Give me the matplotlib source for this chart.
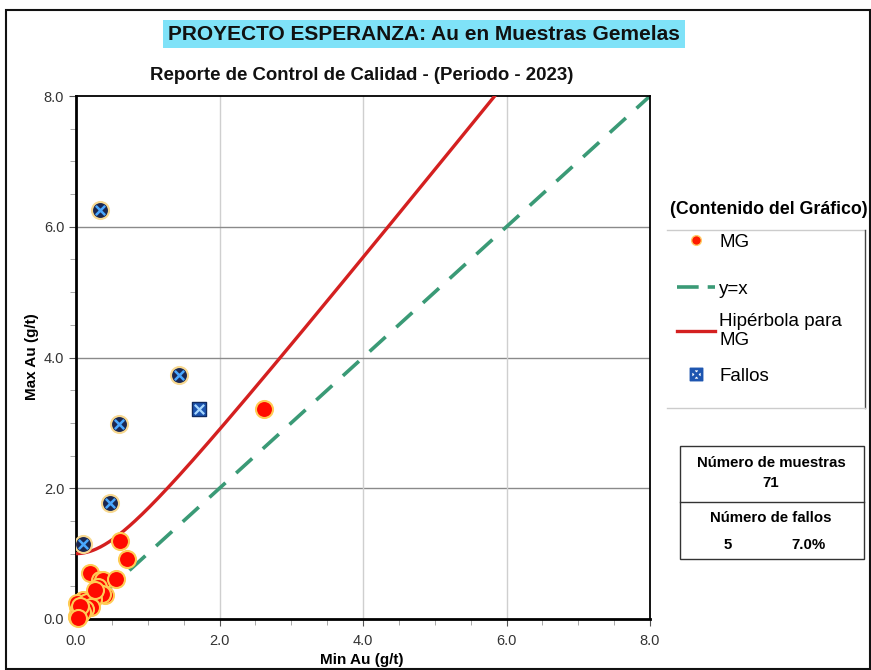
import numpy as np
import matplotlib
matplotlib.use("Agg")
import matplotlib.pyplot as plt
from matplotlib.lines import Line2D
from matplotlib.patches import Rectangle

plt.rcParams['font.family'] = ['Liberation Sans', 'DejaVu Sans']

# ---- data ----
mg_x = [0.62, 0.71, 0.19, 0.33, 0.38, 0.56, 0.30, 0.41, 0.36, 0.23, 0.08, 0.10, 0.03, 0.05,
        0.04, 0.02, 0.13, 0.16, 0.06, 0.01, 0.27, 0.21, 0.12, 0.09, 0.02, 0.05, 0.03, 2.62]
mg_y = [1.20, 0.92, 0.71, 0.60, 0.60, 0.61, 0.49, 0.37, 0.39, 0.30, 0.27, 0.29, 0.19, 0.06,
        0.12, 0.24, 0.22, 0.26, 0.09, 0.03, 0.45, 0.18, 0.15, 0.11, 0.05, 0.20, 0.02, 3.21]
fallos_circ_x = [0.10, 0.47, 0.60, 0.33, 1.43]
fallos_circ_y = [1.14, 1.77, 2.98, 6.26, 3.73]
fallos_sq_x = [1.72]
fallos_sq_y = [3.21]
hyp_b = 1.0
hyp_m = 1.36
diag_pts = [0.0, 8.0]
x_ticks = [0.0, 2.0, 4.0, 6.0, 8.0]
y_ticks = [0.0, 2.0, 4.0, 6.0, 8.0]
legend_labels = ["MG", "y=x", "Hipérbola para\nMG", "Fallos"]
n_muestras = 71
n_fallos = 5
pct_fallos = "7.0%"

W, H = 871, 670
fig = plt.figure(figsize=(W/100, H/100), dpi=100)

def fx(px): return px / W
def fy(py): return 1 - py / H

ax = fig.add_axes([fx(76), fy(619), fx(650) - fx(76), fy(96) - fy(619)])
ax.set_xlim(0, 8)
ax.set_ylim(0, 8)

# grid
for v in [2, 4, 6]:
    ax.axvline(v, color='#cfcfcf', lw=1.0, zorder=0)
    ax.axhline(v, color='#8a8a8a', lw=1.0, zorder=0)

# y=x
ax.plot(diag_pts, diag_pts, color='#3a9a76', lw=2.6, dashes=(6, 4), zorder=2)
# hyperbola
hx = np.linspace(0, 8, 400)
hy = np.sqrt(hyp_b**2 + (hyp_m * hx)**2)
ax.plot(hx, hy, color='#d42020', lw=2.4, zorder=3)

# MG points
ax.scatter(mg_x, mg_y, s=150, c='#ff0a00', edgecolors='#ffcc55', linewidths=1.5, zorder=4, clip_on=False)
# fallos
ax.scatter(fallos_circ_x, fallos_circ_y, s=150, c='#1b2750', edgecolors='#f7d890', linewidths=1.5, zorder=5)
ax.scatter(fallos_circ_x, fallos_circ_y, s=45, marker='x', c='#4aa8ff', linewidths=1.8, zorder=6)
ax.scatter(fallos_sq_x, fallos_sq_y, s=110, marker='s', c='#1d55b0', edgecolors='#102a60', linewidths=1.0, zorder=5)
ax.scatter(fallos_sq_x, fallos_sq_y, s=45, marker='x', c='#a8d8ff', linewidths=1.6, zorder=6)

ax.set_xticks(x_ticks)
ax.set_yticks(y_ticks)
ax.set_xticklabels([f"{v:.1f}" for v in x_ticks])
ax.set_yticklabels([f"{v:.1f}" for v in y_ticks])
ax.set_xticks(np.arange(0, 8.01, 0.5), minor=True)
ax.set_yticks(np.arange(0, 8.01, 0.5), minor=True)
ax.tick_params(axis='both', which='major', length=5, color='#555555', labelsize=10.5,
               labelcolor='#333333', direction='out')
ax.tick_params(axis='both', which='minor', length=4, color='#999999', direction='out')
ax.tick_params(axis='x', pad=6)

for s in ['left', 'bottom']:
    ax.spines[s].set_linewidth(2.0)
    ax.spines[s].set_color('black')
for s in ['top', 'right']:
    ax.spines[s].set_linewidth(1.3)
    ax.spines[s].set_color('black')

fig.text(fx(362), fy(660), "Min Au (g/t)", ha='center', va='center', fontsize=11, fontweight='bold')
fig.text(fx(32), fy(357), "Max Au (g/t)", ha='center', va='center', fontsize=11, fontweight='bold', rotation=90)

# titles
fig.text(fx(424), fy(34), "PROYECTO ESPERANZA: Au en Muestras Gemelas", ha='center', va='center',
         fontsize=15, fontweight='bold', color='#111111',
         bbox=dict(boxstyle='square,pad=0.22', fc='#7fe2f8', ec='none'))
fig.text(fx(362), fy(75), "Reporte de Control de Calidad - (Periodo - 2023)", ha='center', va='center',
         fontsize=13.4, fontweight='bold', color='#111111')

# legend
fig.text(fx(769), fy(210), "(Contenido del Gráfico)", ha='center', va='center', fontsize=12.8, fontweight='bold')
fig.add_artist(Line2D([fx(667), fx(865)], [fy(230), fy(230)], color='#cccccc', lw=1.0))
fig.add_artist(Line2D([fx(865), fx(865)], [fy(230), fy(408)], color='#444444', lw=1.0))
fig.add_artist(Line2D([fx(667), fx(865)], [fy(408), fy(408)], color='#cccccc', lw=1.0))

handles = [
    Line2D([], [], ls='none', marker='o', ms=7, mfc='#ff1a00', mec='#ffcc66'),
    Line2D([], [], color='#3a9a76', lw=2.6, dashes=(6, 2.5)),
    Line2D([], [], color='#d42020', lw=2.4),
    Line2D([], [], ls='none', marker='$\\boxtimes$', ms=9, color='#1d55b0'),
]
row_y = [242, 289, 331, 376]
for h, lab, yy in zip(handles, legend_labels, row_y):
    fig.legend([h], [lab], loc='center left', bbox_to_anchor=(fx(677), fy(yy)),
               frameon=False, fontsize=13.5, handlelength=2.05, handletextpad=0.2,
               borderpad=0, borderaxespad=0, labelspacing=0.2)

# summary box
fig.add_artist(Rectangle((fx(680), fy(559)), fx(864) - fx(680), fy(446) - fy(559),
                         fill=False, ec='#333333', lw=1.0))
fig.add_artist(Line2D([fx(680), fx(864)], [fy(502), fy(502)], color='#333333', lw=1.0))
fig.text(fx(771), fy(463), "Número de muestras", ha='center', va='center', fontsize=10.8, fontweight='bold')
fig.text(fx(771), fy(483), f"{n_muestras}", ha='center', va='center', fontsize=10.8, fontweight='bold')
fig.text(fx(771), fy(518), "Número de fallos", ha='center', va='center', fontsize=10.8, fontweight='bold')
fig.text(fx(728), fy(545), f"{n_fallos}", ha='center', va='center', fontsize=10.8, fontweight='bold')
fig.text(fx(808), fy(545), pct_fallos, ha='center', va='center', fontsize=10.8, fontweight='bold')

# outer border
fig.add_artist(Rectangle((fx(6), fy(669)), fx(870) - fx(6), fy(10) - fy(669),
                         fill=False, ec='#111111', lw=1.5))

fig.savefig("out.png", dpi=100)
